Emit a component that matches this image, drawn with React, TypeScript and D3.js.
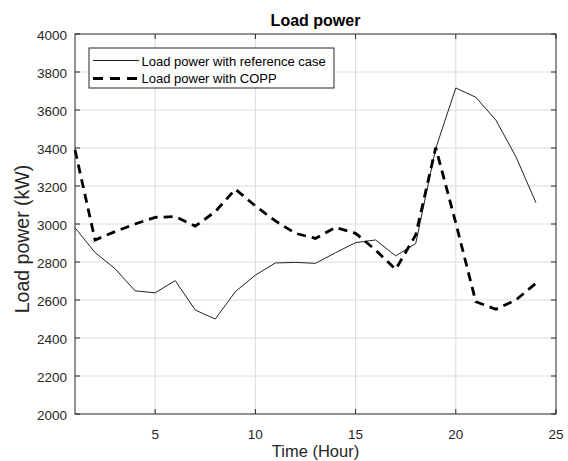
import React from 'react';
import * as d3 from 'd3';

const hours = [1, 2, 3, 4, 5, 6, 7, 8, 9, 10, 11, 12, 13, 14, 15, 16, 17, 18, 19, 20, 21, 22, 23, 24];
const referenceCase = [2980, 2850, 2765, 2648, 2638, 2702, 2547, 2500, 2644, 2731, 2795, 2798, 2793, 2849, 2902, 2916, 2832, 2897, 3398, 3716, 3667, 3547, 3354, 3112];
const coppCase = [3390, 2916, 2960, 3000, 3035, 3039, 2989, 3065, 3183, 3095, 3016, 2951, 2924, 2982, 2951, 2863, 2761, 2942, 3402, 3005, 2591, 2551, 2600, 2688];
const xTicks = [5, 10, 15, 20, 25];
const yTicks = [2000, 2200, 2400, 2600, 2800, 3000, 3200, 3400, 3600, 3800, 4000];
const legendLabels = ['Load power with reference case', 'Load power with COPP'];

const W = 568;
const H = 461;
const left = 75;
const right = 556;
const top = 34;
const bottom = 414;
const font = '"Liberation Sans", Arial, sans-serif';
const axisColor = '#262626';

export default function App() {
  const x = d3.scaleLinear().domain([1, 25]).range([left, right]);
  const y = d3.scaleLinear().domain([2000, 4000]).range([bottom, top]);

  const line = d3.line<number>()
    .x((d, i) => x(hours[i]))
    .y(d => y(d));

  return (
    <svg width={W} height={H} style={{ position: 'absolute', left: 0, top: 0, background: '#fff' }}>
      <rect x={0} y={0} width={W} height={H} fill="#fff" />
      {/* grid */}
      <g stroke="#dcdcdc" strokeWidth={1}>
        {xTicks.filter(t => t < 25).map(t => (
          <line key={'gx' + t} x1={x(t)} x2={x(t)} y1={top} y2={bottom} />
        ))}
        {yTicks.filter(t => t > 2000 && t < 4000).map(t => (
          <line key={'gy' + t} x1={left} x2={right} y1={y(t)} y2={y(t)} />
        ))}
      </g>

      <path d={line(referenceCase) || ''} fill="none" stroke="#222" strokeWidth={1} />
      <path d={line(coppCase) || ''} fill="none" stroke="#000" strokeWidth={2.8} strokeDasharray="9,6" />

      {/* box and ticks */}
      <rect x={left} y={top} width={right - left} height={bottom - top} fill="none" stroke={axisColor} strokeWidth={1} />
      <g stroke={axisColor} strokeWidth={1}>
        {xTicks.map(t => (
          <g key={'tx' + t}>
            <line x1={x(t)} x2={x(t)} y1={bottom} y2={bottom - 5} />
            <line x1={x(t)} x2={x(t)} y1={top} y2={top + 5} />
          </g>
        ))}
        {yTicks.map(t => (
          <g key={'ty' + t}>
            <line x1={left} x2={left + 5} y1={y(t)} y2={y(t)} />
            <line x1={right} x2={right - 5} y1={y(t)} y2={y(t)} />
          </g>
        ))}
      </g>
      <g fontFamily={font} fontSize={13.5} fill={axisColor}>
        {xTicks.map(t => (
          <text key={'lx' + t} x={x(t)} y={438.5} textAnchor="middle">{t}</text>
        ))}
        {yTicks.map(t => (
          <text key={'ly' + t} x={67} y={y(t) + 5.5} textAnchor="end">{t}</text>
        ))}
      </g>

      <text x={(left + right) / 2} y={26} textAnchor="middle" fontFamily={font} fontSize={16} fontWeight="bold" fill="#000">Load power</text>
      <text x={(left + right) / 2} y={457} textAnchor="middle" fontFamily={font} fontSize={16.5} fill={axisColor}>Time (Hour)</text>
      <text transform={`translate(29,239) rotate(-90)`} textAnchor="middle" fontFamily={font} fontSize={19.5} fill={axisColor}>Load power (kW)</text>

      {/* legend */}
      <g>
        <rect x={89} y={48} width={245} height={40} fill="#fff" stroke={axisColor} strokeWidth={1} />
        <line x1={93} x2={139} y1={60.5} y2={60.5} stroke="#222" strokeWidth={1} />
        <line x1={93} x2={139} y1={78.5} y2={78.5} stroke="#000" strokeWidth={2.8} strokeDasharray="10,7" />
        <text x={141.5} y={65.5} fontFamily={font} fontSize={13} fill="#000">{legendLabels[0]}</text>
        <text x={141.5} y={83} fontFamily={font} fontSize={13} fill="#000">{legendLabels[1]}</text>
      </g>
    </svg>
  );
}
